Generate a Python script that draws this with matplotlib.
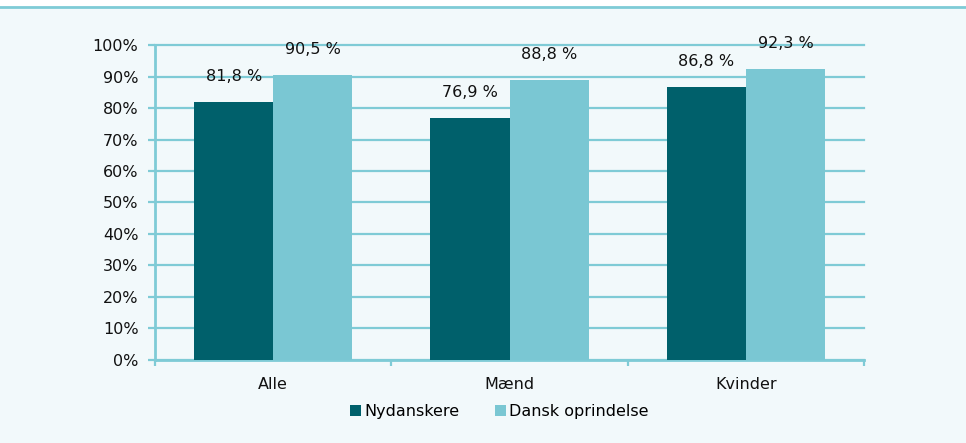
import matplotlib.pyplot as plt
import numpy as np
from matplotlib.patches import Patch
from matplotlib.lines import Line2D

# data
categories = ["Alle", "Mænd", "Kvinder"]
nydanskere = [81.8, 76.9, 86.8]
dansk = [90.5, 88.8, 92.3]
series_names = ["Nydanskere", "Dansk oprindelse"]

dark = "#00606b"
light = "#7ac7d3"
grid = "#7fcbd6"
bg = "#f2f9fb"

plt.rcParams['font.family'] = ['DejaVu Sans']

fig = plt.figure(figsize=(9.66, 4.43), dpi=100)
fig.patch.set_facecolor(bg)

# white strip and teal rule across the top
fig.add_artist(plt.Rectangle((0, 1 - 6 / 443), 1, 6 / 443, transform=fig.transFigure,
                             facecolor="white", edgecolor="none"))
fig.add_artist(Line2D([0, 1], [1 - 7 / 443, 1 - 7 / 443], transform=fig.transFigure,
                      color=grid, linewidth=2))

ax = fig.add_axes([0.1605, 0.1874, 0.734, 0.711])
ax.set_facecolor(bg)

x = np.arange(len(categories))
w = 0.335
b1 = ax.bar(x - w / 2, nydanskere, w, color=dark, zorder=3)
b2 = ax.bar(x + w / 2, dansk, w, color=light, zorder=3)

for bars, vals in ((b1, nydanskere), (b2, dansk)):
    for rect, v in zip(bars, vals):
        ax.annotate(f"{v:.1f} %".replace(".", ","),
                    (rect.get_x() + rect.get_width() / 2, v),
                    xytext=(0, 13), textcoords="offset points",
                    ha="center", va="bottom", fontsize=11.5, color="#111111",
                    zorder=4)

ax.set_ylim(0, 100)
ax.set_xlim(-0.5, 2.5)
ax.set_yticks(np.arange(0, 101, 10))
ax.set_yticklabels([f"{v}%" for v in range(0, 101, 10)])
ax.yaxis.grid(True, color=grid, linewidth=1.6, zorder=0)
ax.set_axisbelow(True)
# keep the 100% gridline from being clipped at the top edge
for gl in ax.get_ygridlines():
    gl.set_clip_on(False)

ax.set_xticks(x)
ax.set_xticklabels(categories)
ax.set_xticks([-0.5, 0.5, 1.5, 2.5], minor=True)
ax.tick_params(axis="x", which="major", length=0, pad=12, labelsize=11.5, labelcolor="#111111")
ax.tick_params(axis="x", which="minor", length=4, width=1.6, color=grid)
ax.tick_params(axis="y", length=5, width=1.6, color=grid, labelsize=11.5, labelcolor="#111111", pad=7)

for s in ("top", "right"):
    ax.spines[s].set_visible(False)
for s in ("left", "bottom"):
    ax.spines[s].set_color(grid)
    ax.spines[s].set_linewidth(2)

handles = [Patch(facecolor=dark), Patch(facecolor=light)]
fig.legend(handles, series_names, loc="center", bbox_to_anchor=(0.517, 0.07),
           ncol=2, frameon=False, fontsize=11.5, handlelength=0.7, handleheight=0.7,
           handletextpad=0.2, columnspacing=2.2)

fig.savefig("out.png", dpi=100, facecolor=bg)
